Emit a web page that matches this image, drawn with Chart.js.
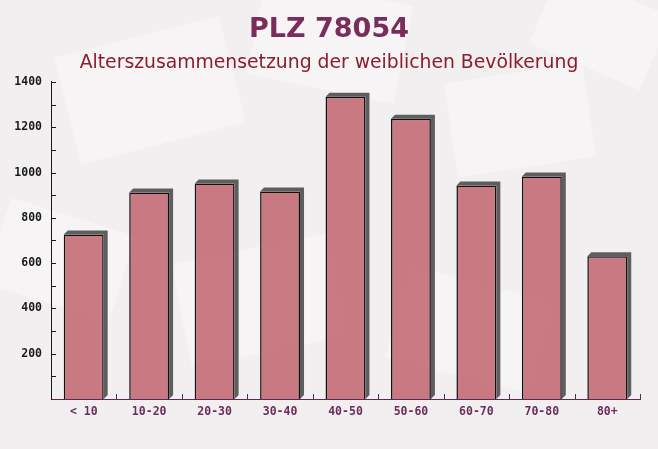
<!DOCTYPE html>
<html>
<head>
<meta charset="utf-8">
<script src="https://cdn.jsdelivr.net/npm/chart.js@4"></script>
<style>
  html, body { margin: 0; padding: 0; background: #f3f0f1; }
  #wrap { width: 658px; height: 449px; }
</style>
</head>
<body>
<div id="wrap"><canvas id="chart" width="658" height="449"></canvas></div>
<script>
const categories = ['< 10', '10-20', '20-30', '30-40', '40-50', '50-60', '60-70', '70-80', '80+'];
const femaleCounts = [726, 912, 952, 916, 1335, 1238, 943, 982, 630];
const yTicks = [200, 400, 600, 800, 1000, 1200, 1400];

const titleText = 'PLZ 78054';
const subtitleText = 'Alterszusammensetzung der weiblichen Bevölkerung';

// faint envelope-like shapes in the background
const backdrop = {
  id: 'backdrop',
  beforeDraw(chart) {
    const ctx = chart.ctx;
    ctx.save();
    ctx.fillStyle = '#f2eff0';
    ctx.fillRect(0, 0, chart.width, chart.height);
    const shapes = [
      [150, 90, 170, 110, -0.25], [330, 40, 150, 100, 0.2], [520, 120, 140, 95, -0.15],
      [60, 260, 130, 90, 0.3], [260, 300, 160, 105, -0.2], [470, 330, 150, 95, 0.25],
      [600, 30, 120, 80, 0.4]
    ];
    ctx.fillStyle = 'rgba(255,255,255,0.3)';
    shapes.forEach(([x, y, w, h, r]) => {
      ctx.save();
      ctx.translate(x, y);
      ctx.rotate(r);
      ctx.fillRect(-w / 2, -h / 2, w, h);
      ctx.restore();
    });
    ctx.restore();
  }
};

// center title + subtitle across the whole canvas, not the padded area
const centerTitles = {
  id: 'centerTitles',
  afterLayout(chart) {
    chart.boxes.forEach(b => {
      if (!b.axis && b.position === 'top') {
        b.left = 0;
        b.right = chart.width;
      }
    });
  }
};

// dark 3d extrusion behind each bar
const barDepth = {
  id: 'barDepth',
  beforeDatasetsDraw(chart) {
    const ctx = chart.ctx;
    const d = 4;
    ctx.save();
    ctx.fillStyle = '#5e5e5e';
    chart.getDatasetMeta(0).data.forEach(bar => {
      const l = bar.x - bar.width / 2, r = bar.x + bar.width / 2;
      ctx.beginPath();
      ctx.moveTo(l, bar.y);
      ctx.lineTo(l + d, bar.y - d);
      ctx.lineTo(r + d, bar.y - d);
      ctx.lineTo(r + d, bar.base - d);
      ctx.lineTo(r, bar.base);
      ctx.lineTo(r, bar.y);
      ctx.closePath();
      ctx.fill();
    });
    ctx.restore();
  }
};

// inward tick marks on both axes
const tickMarks = {
  id: 'tickMarks',
  afterDatasetsDraw(chart) {
    const ctx = chart.ctx;
    const y = chart.scales.y, x = chart.scales.x;
    ctx.save();
    ctx.lineWidth = 1;
    ctx.strokeStyle = '#1a1a1a';
    for (let v = 100; v <= 1400; v += 100) {
      const py = Math.round(y.getPixelForValue(v)) + 0.5;
      ctx.beginPath();
      ctx.moveTo(y.right, py);
      ctx.lineTo(y.right + 5, py);
      ctx.stroke();
    }
    ctx.strokeStyle = '#5c2a4f';
    const step = x.width / categories.length;
    for (let i = 1; i <= categories.length; i++) {
      const px = Math.round(x.getPixelForValue(i - 1) + step / 2) + 0.5;
      ctx.beginPath();
      ctx.moveTo(px, x.top);
      ctx.lineTo(px, x.top - 5);
      ctx.stroke();
    }
    ctx.restore();
  }
};

new Chart(document.getElementById('chart'), {
  type: 'bar',
  data: {
    labels: categories,
    datasets: [{
      data: femaleCounts,
      backgroundColor: 'rgba(194, 100, 110, 0.85)',
      borderColor: '#111',
      borderWidth: 1.5,
      borderSkipped: 'bottom',
      categoryPercentage: 1,
      barPercentage: 0.61
    }]
  },
  options: {
    responsive: false,
    animation: false,
    layout: { padding: { left: 0, right: 18, top: 0, bottom: 0 } },
    plugins: {
      legend: { display: false },
      tooltip: { enabled: false },
      title: {
        display: true,
        text: titleText,
        color: '#7a2d5a',
        font: { family: 'DejaVu Sans', size: 27, weight: 'bold' },
        padding: { top: 14, bottom: 5 }
      },
      subtitle: {
        display: true,
        text: subtitleText,
        color: '#8c1d2e',
        font: { family: 'DejaVu Sans', size: 18.8 },
        padding: { top: 0, bottom: 8 }
      }
    },
    scales: {
      x: {
        grid: { display: false, drawTicks: false },
        border: { display: true, color: '#5c2a4f', width: 1 },
        ticks: {
          color: '#6b2d5b',
          padding: 6,
          font: { family: 'DejaVu Sans Mono', size: 11.5, weight: 'bold' }
        },
        afterFit(scale) { scale.height = 50; }
      },
      y: {
        min: 0,
        max: 1400,
        grid: { display: false, drawTicks: false },
        border: { display: true, color: '#1a1a1a', width: 1 },
        afterBuildTicks(scale) {
          scale.ticks = yTicks.map(v => ({ value: v }));
        },
        ticks: {
          color: '#1a1a1a',
          padding: 9,
          callback: v => String(v),
          font: { family: 'DejaVu Sans Mono', size: 11.5, weight: 'bold' }
        },
        afterFit(scale) { scale.width = 51; }
      }
    }
  },
  plugins: [backdrop, centerTitles, barDepth, tickMarks]
});
</script>
</body>
</html>
